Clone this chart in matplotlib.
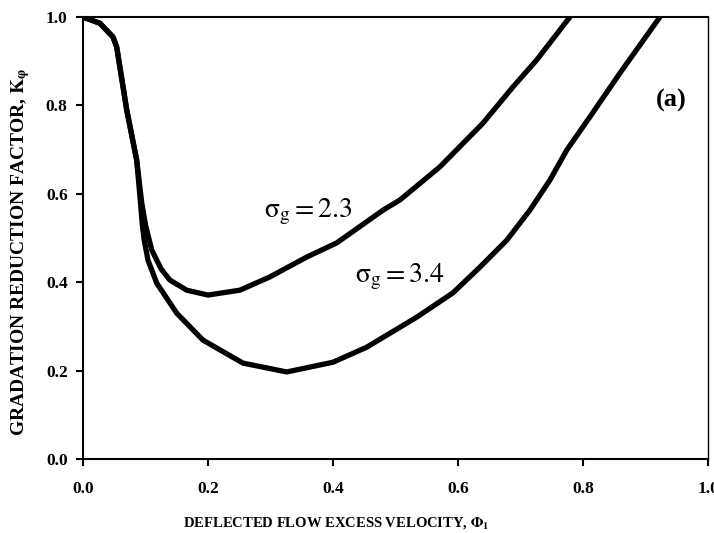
import matplotlib
matplotlib.use('Agg')
import matplotlib.pyplot as plt

plt.rcParams['font.family'] = 'Liberation Serif'
plt.rcParams['mathtext.fontset'] = 'stix'

# sigma_g = 2.3 curve
phi_23 = [0.0, 0.027, 0.048, 0.054, 0.07, 0.086, 0.094, 0.100, 0.110, 0.125, 0.139,
          0.166, 0.2, 0.251, 0.299, 0.358, 0.406, 0.48, 0.507, 0.571, 0.64, 0.688,
          0.726, 0.779]
k_23 = [1.0, 0.986, 0.955, 0.932, 0.79, 0.676, 0.58, 0.53, 0.473, 0.43, 0.405,
        0.382, 0.371, 0.382, 0.412, 0.457, 0.489, 0.563, 0.586, 0.661, 0.760, 0.842,
        0.903, 1.0]

# sigma_g = 3.4 curve
phi_34 = [0.0, 0.027, 0.048, 0.054, 0.07, 0.086, 0.092, 0.095, 0.098, 0.104, 0.118,
          0.150, 0.192, 0.256, 0.326, 0.40, 0.454, 0.534, 0.592, 0.635, 0.678, 0.715,
          0.747, 0.774, 0.811, 0.859, 0.923]
k_34 = [1.0, 0.986, 0.955, 0.932, 0.79, 0.676, 0.58, 0.53, 0.495, 0.45, 0.398,
        0.330, 0.269, 0.217, 0.197, 0.219, 0.253, 0.321, 0.376, 0.434, 0.495, 0.563,
        0.631, 0.699, 0.774, 0.873, 1.0]

ticks = [0.0, 0.2, 0.4, 0.6, 0.8, 1.0]
tick_labels = ['0.0', '0.2', '0.4', '0.6', '0.8', '1.0']

fig = plt.figure(figsize=(7.14, 5.33), dpi=100)
ax = fig.add_axes([0.1162, 0.1388, 0.8754, 0.8292])

ax.plot(phi_23, k_23, color='black', lw=3.8, solid_capstyle='round', solid_joinstyle='round')
ax.plot(phi_34, k_34, color='black', lw=3.8, solid_capstyle='round', solid_joinstyle='round')

ax.text(0.36, 0.559, r'$\mathrm{\sigma_g = 2.3}$', fontsize=20, ha='center', va='center')
ax.text(0.507, 0.412, r'$\mathrm{\sigma_g = 3.4}$', fontsize=20, ha='center', va='center')
ax.text(0.941, 0.812, '(a)', fontsize=19, fontweight='bold', ha='center', va='center')

ax.set_xlim(0, 1)
ax.set_ylim(0, 1)
ax.set_xticks(ticks)
ax.set_xticklabels(tick_labels, fontweight='bold', fontsize=12.5)
ax.set_yticks(ticks)
ax.set_yticklabels(tick_labels, fontweight='bold', fontsize=12.5)
ax.tick_params(axis='x', direction='out', length=5, width=1.5, pad=11)
ax.tick_params(axis='y', direction='out', length=5, width=1.5, pad=6)
for s in ['left', 'bottom', 'top']:
    ax.spines[s].set_linewidth(1.5)
ax.spines['right'].set_linewidth(1.0)

ax.set_xlabel(r'DEFLECTED FLOW EXCESS VELOCITY, $\mathbf{\Phi_1}$', fontsize=10.5,
              fontweight='bold')
ax.xaxis.set_label_coords(0.405, -0.127)
ax.set_ylabel(r'GRADATION REDUCTION FACTOR, $\mathbf{K_\varphi}$', fontsize=14,
              fontweight='bold')
ax.yaxis.set_label_coords(-0.082, 0.468)

fig.savefig('out.png', dpi=100)
